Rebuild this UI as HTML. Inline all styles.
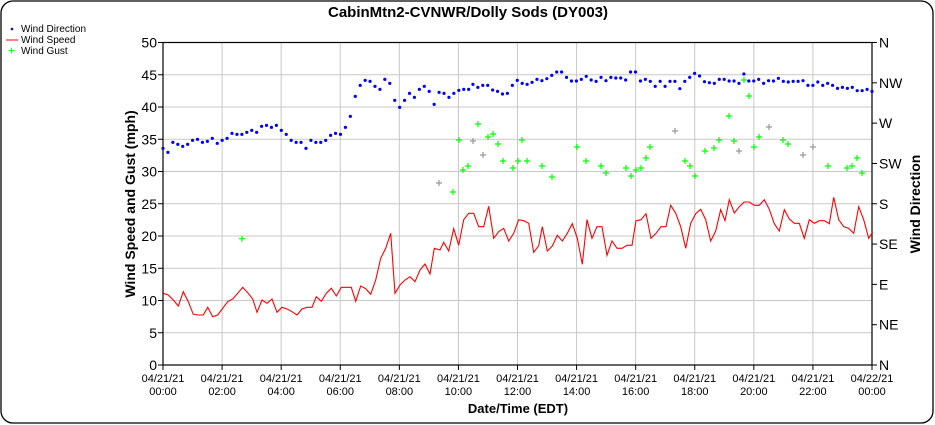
<!DOCTYPE html>
<html><head><meta charset="utf-8"><style>
body{margin:0;background:#fff}
svg{display:block;font-family:"Liberation Sans",sans-serif}
</style></head><body>
<svg id="s" width="935" height="425" xmlns="http://www.w3.org/2000/svg">
<rect x="1" y="1" width="932" height="422" rx="12" fill="#fff" stroke="#000" stroke-width="1.3"/>
<g id="grid" stroke="#c8c8c8" stroke-width="1"></g>
<rect x="163" y="42.5" width="709" height="322.5" fill="none" stroke="#000" stroke-width="1.2"/>
<text x="468" y="17" text-anchor="middle" font-weight="bold" font-size="15">CabinMtn2-CVNWR/Dolly Sods (DY003)</text>
<g font-size="10" fill="#000">
<circle cx="12" cy="29" r="1.3" fill="#00f"/><text x="21" y="32">Wind Direction</text>
<line x1="6" y1="40" x2="18" y2="40" stroke="#f00"/><text x="21" y="43">Wind Speed</text>
<text x="8" y="54.5" fill="#0f0" font-size="12">+</text><text x="21" y="54">Wind Gust</text>
</g>
<g id="ax" font-size="14"></g>
<text transform="translate(135,204) rotate(-90)" text-anchor="middle" font-weight="bold" font-size="14">Wind Speed and Gust (mph)</text>
<text transform="translate(920,204) rotate(-90)" text-anchor="middle" font-weight="bold" font-size="14">Wind Direction</text>
<text x="518" y="413" text-anchor="middle" font-weight="bold" font-size="13">Date/Time (EDT)</text>
<g id="data"></g>
</svg>
<script>
var ns="http://www.w3.org/2000/svg";
function el(p,t,a,txt){var e=document.createElementNS(ns,t);for(var k in a)e.setAttribute(k,a[k]);if(txt!=null)e.textContent=txt;document.getElementById(p).appendChild(e);return e;}
var L=163,R=872,T=42.5,B=365;
for(var i=0;i<=10;i++){var y=B-(B-T)*i/10;if(i>0&&i<10)el('grid','line',{x1:L,x2:R,y1:y,y2:y});
 el('ax','line',{x1:L-5,x2:L,y1:y,y2:y,stroke:'#000'});
 el('ax','text',{x:L-6,y:y+5,'text-anchor':'end'},String(i*5));}
var dirs=['N','NE','E','SE','S','SW','W','NW','N'];
for(var i=0;i<=8;i++){var y=B-(B-T)*i/8;el('ax','line',{x1:R,x2:R+5,y1:y,y2:y,stroke:'#000'});
 el('ax','text',{x:R+7,y:y+5},dirs[i]);}
for(var h=0;h<=12;h++){var x=L+(R-L)*h/12;if(h>0&&h<12)el('grid','line',{x1:x,x2:x,y1:T,y2:B});
 el('ax','line',{x1:x,x2:x,y1:B,y2:B+5,stroke:'#000'});
 var hh=(h*2)%24;var d=h==12?'04/22/21':'04/21/21';
 el('ax','text',{x:x,y:382,'text-anchor':'middle','font-size':'11'},d);
 el('ax','text',{x:x,y:395,'text-anchor':'middle','font-size':'11'},(hh<10?'0':'')+hh+':00');}
var s3=[[130,280],[145,285],[160,300],[175,318],[190,275],[205,305],[220,343],[235,345],[250,345],[263,322],[278,350],[293,345],[308,325],[323,305],[338,297],[353,280],[368,262],[383,278],[398,297],[411,337],[426,300],[441,310],[456,297],[471,337],[486,322],[501,327],[516,335],[531,345],[546,327],[561,322],[576,322],[589,290],[604,304],[619,280],[634,265],[649,288],[664,262],[679,262],[694,262],[707,304],[722,258],[737,266],[752,283],[767,240],[782,175],[797,145],[812,100],[825,280],[840,255],[855,240],[870,230],[885,245],[900,210],[915,192],[930,222],[943,145]];
var s4=[[0,240],[11,217],[26,243],[41,176],[56,226],[71,149],[86,130],[101,130],[116,170],[131,170],[146,109],[161,205],[176,185],[191,175],[206,213],[221,190],[236,149],[251,152],[266,160],[281,247],[296,227],[307,170],[322,243],[337,228],[352,196],[367,213],[382,190],[397,161],[412,205],[427,283],[441,149],[456,205],[471,170],[486,170],[501,256],[516,213],[531,235],[546,235],[561,226],[576,226],[588,152],[603,149],[618,131],[633,205],[648,190],[663,170],[678,170],[692,106],[707,130],[722,170],[737,235],[752,160],[767,131],[782,118],[797,149],[812,213],[827,183],[842,119],[855,152],[868,89],[883,129],[898,110],[913,96],[928,96],[943,106],[958,106],[973,89],[988,118],[1003,161],[1018,183],[1033,119],[1048,147],[1063,160],[1078,160],[1093,205],[1108,149],[1123,160],[1138,152],[1153,152],[1168,161],[1181,82],[1196,149],[1211,170],[1226,175],[1241,190],[1256,110],[1271,149],[1286,205],[1298,186]];
var pts=[];s3.forEach(function(p){pts.push((120+p[0]/3).toFixed(1)+','+(200+p[1]/3).toFixed(1));});
s4.forEach(function(p){pts.push((440+p[0]/3).toFixed(1)+','+(170+p[1]/3).toFixed(1));});
el('data','polyline',{points:pts.join(' '),fill:'none',stroke:'#f00','stroke-width':'1.1'});
var g=[[242,238.7],[439,183,1],[453,192],[459,140],[463,170],[468,166],[473,141,1],[478,124],[483,155,1],[488,137],[493,134],[498,144],[503,161],[513,168],[518,161],[522,140],[527,161],[542,166],[552,177],[577,147],[586,161],[601,166],[606,173],[626,168],[631,176],[636,170],[641,168],[646,158],[650,147],[675,131,1],[685,161],[690,166],[695,176],[705,151],[714,148],[719,140],[729,116],[734,141],[739,151,1],[744,80],[749,96],[754,147],[759,137],[769,127,1],[783,140],[788,144],[803,155,1],[813,147,1],[828,166],[847,168],[852,166],[857,158],[862,173]];
g.forEach(function(p){el('data','path',{d:'M'+(p[0]-3)+' '+p[1]+'h6M'+p[0]+' '+(p[1]-3)+'v6',stroke:p[2]?'#999':'#0f0','stroke-width':'1.2'});});
var d1=[445,457,427,433,439,433,421,418,427,424,415,430,421,415,400,403,403,397,391,397,379,376,382,376,391,403,421,427,427,445,421,427,427,421,406,400,403,382,349,289,256,241,244,259,268,238,250,301,322,301,280,292,268,259,274,313,277,280,292,280,271,268,268];
var d2=[253,262,256,256,270,274,282,280,256,241,250,253,247,238,242,236,226,216,216,232,243,243,238,229,240,244,232,242,232,234,234,240,216,216,243,238,244,259,244,259,244,244,266,244,232,220,228,245,248,250,238,238,243,243,250,222,243,243,238,250,242,243,235,244,246,244,244,242,256,256,246,256,250,256,265,262,265,262,272,272,268,274];
var step=4.93;
d1.forEach(function(v,i){el('data','circle',{cx:163+i*step,cy:v/3,r:1.6,fill:'#00f'});});
var st2=(872-468)/d2.length;
d2.forEach(function(v,i){el('data','circle',{cx:468+(i+1)*st2,cy:v/3,r:1.6,fill:'#00f'});});
</script>
</body></html>
